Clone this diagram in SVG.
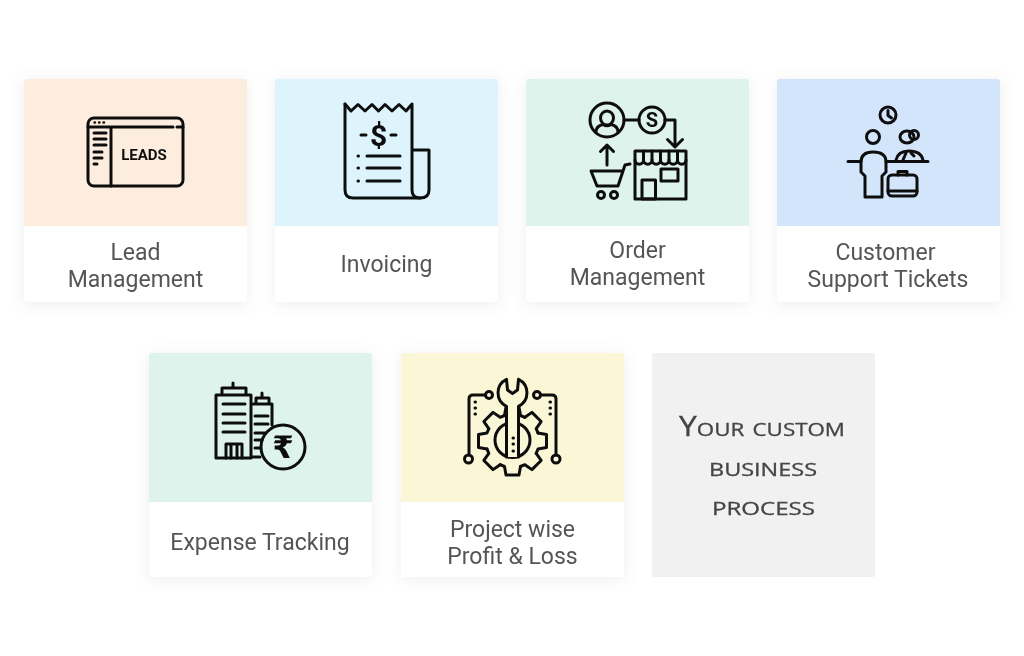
<svg xmlns="http://www.w3.org/2000/svg" xmlns:xlink="http://www.w3.org/1999/xlink" width="1024" height="656" viewBox="0 0 1024 656">
<style>
.card{fill:#fff;filter:url(#sh)}
.lb{font-family:Roboto,"Liberation Sans",sans-serif;font-size:23px;fill:#555;text-anchor:middle}
.ic{fill:none;stroke:#111;stroke-width:3;stroke-linecap:round;stroke-linejoin:round}
.ict{font-family:Roboto,"DejaVu Sans",sans-serif;fill:#111;text-anchor:middle}
.hw{font-family:"Open Sans","Liberation Sans",sans-serif;font-variant:small-caps;font-size:27px;fill:#444;stroke:#444;stroke-width:.3}
</style>
<defs>
<filter id="sh" x="-15%" y="-15%" width="130%" height="130%"><feDropShadow dx="0" dy="2" stdDeviation="7" flood-color="#8a94a6" flood-opacity=".16"/></filter>
<filter id="soft" filterUnits="userSpaceOnUse" x="0" y="0" width="1024" height="656"><feGaussianBlur stdDeviation=".35"/></filter>
<path id="tooth" d="M-8,-25.5 L-6.5,-34 H6.5 L8,-25.5 L12.37,-23.69"/>
</defs>
<rect width="1024" height="656" fill="#fff"/>
<g filter="url(#soft)">
<g id="lead-management">
<rect class="card" x="24" y="79" width="223" height="223" rx="3"/>
<path d="M24,82a3,3 0 0 1 3,-3H244a3,3 0 0 1 3,3V226H24Z" fill="#FDEDDE"/>
<g class="ic">
<rect x="88" y="118" width="95" height="68" rx="6"/>
<path d="M88,127H173M177,127H183M111,127V186"/>
<path d="M94,133H106M94,139H106M94,145H106M94,152H102M94,158H102M94,164H97"/>
<path d="M94.500,122.500H95M99,122.500H99.500M103.500,122.500H104" stroke-width="2.400"/>
</g>
<text class="ict" x="144" y="160" font-size="15" font-weight="700">LEADS</text>
<text class="lb" x="135.500" y="260">Lead</text>
<text class="lb" x="135.500" y="287">Management</text>
</g>
<g id="invoicing">
<rect class="card" x="275" y="79" width="223" height="223" rx="3"/>
<path d="M275,82a3,3 0 0 1 3,-3H495a3,3 0 0 1 3,3V226H275Z" fill="#DDF4FC"/>
<g class="ic">
<path d="M345,104L351,111L358,104.500L365,111L372,104.500L378.500,111L385,104.500L392,111L399,104.500L406,111L412,104V190Q412,198 420,198Q429,198 429,190V150H412"/>
<path d="M345,104V190Q345,198 353,198H420"/>
<path d="M361,135H366M391,135H396M367,156H400M367,168H400M367,181H400M358,156H358.500M358,168H358.500M358,181H358.500"/>
</g>
<text class="ict" x="378.500" y="146" font-size="30" font-weight="700">$</text>
<text class="lb" x="386.500" y="271.500">Invoicing</text>
</g>
<g id="order-management">
<rect class="card" x="526" y="79" width="223" height="223" rx="3"/>
<path d="M526,82a3,3 0 0 1 3,-3H746a3,3 0 0 1 3,3V226H526Z" fill="#DDF3EC"/>
<g class="ic">
<circle cx="607" cy="120" r="17"/>
<ellipse cx="607" cy="118" rx="6.500" ry="7"/>
<path d="M596,132Q596,126 603,124.500Q607,127 611,124.500Q618,126 618,132"/>
<path d="M624,120H639"/>
<circle cx="652" cy="120" r="13"/>
<path d="M665,120H675V147M667.500,139.500L675,147L682.500,139.500"/>
<path d="M607,165V145M600.500,151.500L607,145L613.500,151.500"/>
<path d="M630,164L625,165L618,186H597L591,171H622"/>
<circle cx="601" cy="195" r="3.500"/><circle cx="614" cy="195" r="3.500"/>
<rect x="635" y="151" width="51" height="48"/>
<path d="M635,160a4.250,4.250 0 0 0 8.500,0a4.250,4.250 0 0 0 8.500,0a4.250,4.250 0 0 0 8.500,0a4.250,4.250 0 0 0 8.500,0a4.250,4.250 0 0 0 8.500,0a4.250,4.250 0 0 0 8.500,0"/>
<path d="M643.500,151V160M652,151V160M660.500,151V160M669,151V160M677.500,151V160"/>
<rect x="642" y="180" width="13.500" height="19"/>
<rect x="661" y="169" width="17" height="12"/>
</g>
<text class="ict" x="652" y="127" font-size="20" font-weight="700">S</text>
<text class="lb" x="637.500" y="258">Order</text>
<text class="lb" x="637.500" y="285">Management</text>
</g>
<g id="customer-support-tickets">
<rect class="card" x="777" y="79" width="223" height="223" rx="3"/>
<path d="M777,82a3,3 0 0 1 3,-3H997a3,3 0 0 1 3,3V226H777Z" fill="#D3E5FB"/>
<g class="ic">
<circle cx="888" cy="115" r="8"/>
<path d="M888,110.500V115.500L891.500,118"/>
<circle cx="873" cy="137" r="6.500"/>
<path d="M865,197H882V176L886,172V162Q886,152 873,152Q861,152 861,162V172L865,176Z"/>
<path d="M848,161.500H861M886,161.500H928"/>
<ellipse cx="907" cy="137" rx="7" ry="6"/>
<circle cx="914" cy="135" r="4.500"/>
<path d="M896,160Q898,151 909,151Q921,151 923,160"/>
<path d="M906,153L903,160M911,153L914,156"/>
<rect x="888" y="175" width="29" height="21" rx="4"/>
<path d="M898,175V171.500H907V175M888,191H917"/>
</g>
<text class="lb" x="885.500" y="260">Customer</text>
<text class="lb" x="888" y="287">Support Tickets</text>
</g>
<g id="expense-tracking">
<rect class="card" x="149" y="353" width="223" height="224" rx="3"/>
<path d="M149,356a3,3 0 0 1 3,-3H369a3,3 0 0 1 3,3V502H149Z" fill="#DDF3EC"/>
<g class="ic">
<path d="M233,383V388M222,395V388H246V395M216,458V395H251V458ZM223,404H245M223,414H245M223,423H245M223,432H245"/>
<path d="M226,458V444H242V458M231,444V458M237,444V458"/>
<path d="M262,393V398M256,404V398H269V404M253,404H272V425M255,416H268M255,424H268M255,433H265M255,440H262M255,448H260M252,457H260"/>
<circle cx="283" cy="447" r="22"/>
</g>
<text class="ict" x="283" y="458" font-size="31" font-weight="700" style="font-family:'DejaVu Sans',sans-serif">₹</text>
<text class="lb" x="260" y="549.500">Expense Tracking</text>
</g>
<g id="project-profit-loss">
<rect class="card" x="401" y="353" width="223" height="224" rx="3"/>
<path d="M401,356a3,3 0 0 1 3,-3H621a3,3 0 0 1 3,3V502H401Z" fill="#FAF6D6"/>
<g class="ic">
<g transform="translate(512.500,441)">
<use xlink:href="#tooth"/>
<use xlink:href="#tooth" transform="rotate(45)"/>
<use xlink:href="#tooth" transform="rotate(90)"/>
<use xlink:href="#tooth" transform="rotate(135)"/>
<use xlink:href="#tooth" transform="rotate(180)"/>
<use xlink:href="#tooth" transform="rotate(225)"/>
<use xlink:href="#tooth" transform="rotate(270)"/>
<use xlink:href="#tooth" transform="rotate(315)"/>
</g>
<circle cx="512.500" cy="440" r="17.500"/>
<path fill="#FAF6D6" d="M506.500,457V406.300A15,15 0 0 1 506.500,379.300L507.500,390L512.500,393.500L517.500,390L518.500,379.300A15,15 0 0 1 518.500,406.300V457"/>
<path d="M485.500,395H473Q469,395 469,399V455M540.500,395H552Q556,395 556,399V455"/>
<circle cx="489" cy="395" r="3.500"/><circle cx="537" cy="395" r="3.500"/>
<circle cx="468.500" cy="459" r="4"/><circle cx="556" cy="459" r="4"/>
<path d="M475,402H475.500M475,408H475.500M475,414H475.500M550,402H550.500M550,408H550.500M550,414H550.500M513,438H513.500M513,444H513.500M513,451H513.500"/>
</g>
<text class="lb" x="512.500" y="536.500">Project wise</text>
<text class="lb" x="512.500" y="563.500">Profit &amp; Loss</text>
</g>
<g id="custom-process">
<rect x="652" y="353" width="223" height="224" rx="2" fill="#F1F1F1"/>
<text class="hw" x="679" y="436" textLength="166" lengthAdjust="spacingAndGlyphs">Your custom</text>
<text class="hw" x="709" y="476" textLength="108" lengthAdjust="spacingAndGlyphs">business</text>
<text class="hw" x="712" y="515" textLength="103" lengthAdjust="spacingAndGlyphs">process</text>
</g>
</g>
</svg>
